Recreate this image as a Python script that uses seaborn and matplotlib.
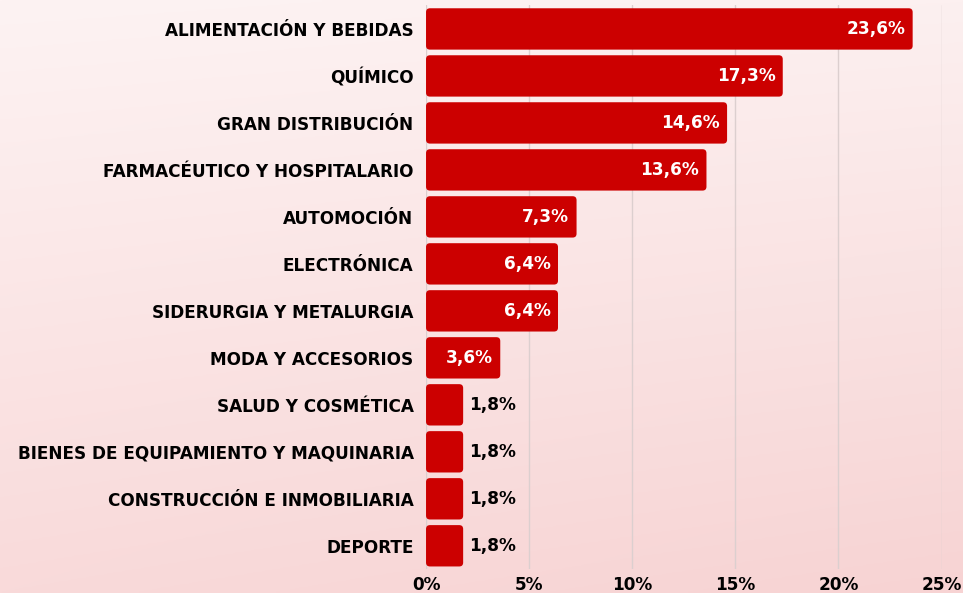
import numpy as np
import pandas as pd
import seaborn as sns
import matplotlib.pyplot as plt
from matplotlib.patches import FancyBboxPatch

categories = [
    'ALIMENTACIÓN Y BEBIDAS',
    'QUÍMICO',
    'GRAN DISTRIBUCIÓN',
    'FARMACÉUTICO Y HOSPITALARIO',
    'AUTOMOCIÓN',
    'ELECTRÓNICA',
    'SIDERURGIA Y METALURGIA',
    'MODA Y ACCESORIOS',
    'SALUD Y COSMÉTICA',
    'BIENES DE EQUIPAMIENTO Y MAQUINARIA',
    'CONSTRUCCIÓN E INMOBILIARIA',
    'DEPORTE',
]
values = [23.6, 17.3, 14.6, 13.6, 7.3, 6.4, 6.4, 3.6, 1.8, 1.8, 1.8, 1.8]
xticks = [0, 5, 10, 15, 20, 25]

df = pd.DataFrame({'sector': categories, 'pct': values})

sns.set_style('white')
plt.rcParams['font.family'] = ['DejaVu Sans']
plt.rcParams['text.color'] = 'black'
FS = 12.2

fig = plt.figure(figsize=(9.63, 5.93), dpi=100)

# soft pink gradient background
bg = fig.add_axes([0, 0, 1, 1], zorder=-1)
top_l = np.array([253, 243, 243]) / 255
top_r = np.array([252, 240, 240]) / 255
bot_l = np.array([249, 218, 218]) / 255
bot_r = np.array([247, 211, 211]) / 255
yy, xx = np.mgrid[0:1:200j, 0:1:300j]
grad = ((1 - yy)[..., None] * ((1 - xx)[..., None] * top_l + xx[..., None] * top_r)
        + yy[..., None] * ((1 - xx)[..., None] * bot_l + xx[..., None] * bot_r))
bg.imshow(grad, aspect='auto', extent=[0, 1, 0, 1])
bg.axis('off')

ax = fig.add_axes([0.4424, 0.040, 0.9777 - 0.4424, 0.9908 - 0.040])
ax.set_facecolor('none')

sns.barplot(data=df, x='pct', y='sector', color='#cc0000', width=0.88,
            saturation=1, ax=ax, zorder=3)

# swap the square bars for rounded ones (same geometry)
for p in list(ax.patches):
    x0, y0 = p.get_x(), p.get_y()
    w, h = p.get_width(), p.get_height()
    rounded = FancyBboxPatch((x0, y0), w, h,
                             boxstyle='round,pad=0,rounding_size=0.19',
                             mutation_aspect=0.437, facecolor='#cc0000',
                             edgecolor='none', zorder=3)
    p.set_visible(False)
    ax.add_patch(rounded)

ax.set_xlim(0, 25)
ax.set_xticks(xticks)
ax.set_xticklabels([f'{t}%' for t in xticks], fontsize=FS, fontweight='bold',
                   color='black')
ax.tick_params(axis='x', length=0, pad=5)
ax.tick_params(axis='y', length=0, pad=9, labelsize=FS, labelcolor='black')
for lbl in ax.get_yticklabels():
    lbl.set_fontweight('bold')
ax.set_xlabel('')
ax.set_ylabel('')
ax.grid(axis='x', color='#dccfcf', linewidth=1, zorder=0)
sns.despine(ax=ax, left=True, bottom=True)

for i, v in enumerate(values):
    txt = f'{v:.1f}%'.replace('.', ',')
    if v >= 3:
        ax.text(v - 0.35, i, txt, color='white', ha='right', va='center',
                fontsize=FS, fontweight='bold', zorder=4)
    else:
        ax.text(v + 0.3, i, txt, color='black', ha='left', va='center',
                fontsize=FS, fontweight='bold', zorder=4)

fig.savefig('out.png', dpi=100)
